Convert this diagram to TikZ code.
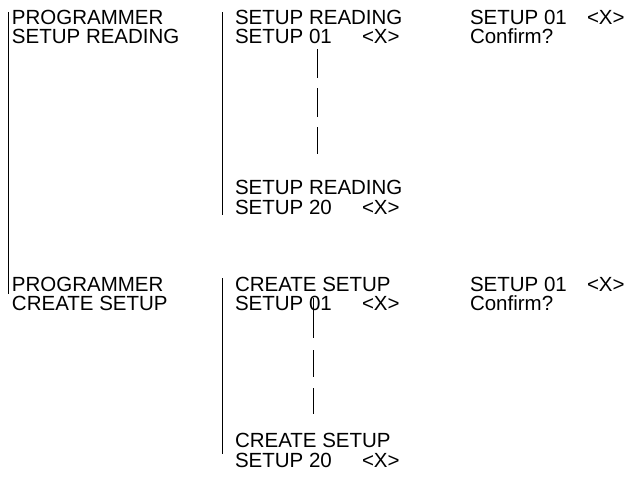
\documentclass[tikz,border=0pt]{standalone}
\usepackage{fontspec}
\setmainfont{Liberation Sans}
\usetikzlibrary{positioning}

\begin{document}
\begin{tikzpicture}
[x=1pt, y=-1pt, font=\fontsize{20.5}{24}\selectfont,
% STYLES
% The menu style is used for every line of display text
menu/.style={anchor=base west, inner sep=0pt, outer sep=0pt},
% The rule style is used for the vertical guide lines
rule/.style={draw=black, line width=0.8pt},
% The scroll style is used for the dashed scroll lines
scroll/.style={draw=black, line width=0.8pt}]

\useasboundingbox (0,0) rectangle (629,477);

% Draw menus
% reading
\node [menu] at (12,24) (prog-read) {PROGRAMMER};
\node [menu] at (12,43) (item-read) {SETUP READING};
\node [menu] at (235,24) (read-head) {SETUP READING};
\node [menu] at (235,43) (read-first) {SETUP 01};
\node [menu] at (362,43) (read-first-x) {<X>};
\node [menu] at (235,194) (read-tail) {SETUP READING};
\node [menu] at (235,214) (read-last) {SETUP 20};
\node [menu] at (362,214) (read-last-x) {<X>};
\node [menu] at (470,24) (read-sel) {SETUP 01};
\node [menu] at (587,24) (read-sel-x) {<X>};
\node [menu] at (470,43) (read-conf) {Confirm?};

% create
\node [menu] at (12,291) (prog-create) {PROGRAMMER};
\node [menu] at (12,310) (item-create) {CREATE SETUP};
\node [menu] at (235,291) (create-head) {CREATE SETUP};
\node [menu] at (235,310) (create-first) {SETUP 01};
\node [menu] at (362,310) (create-first-x) {<X>};
\node [menu] at (235,447) (create-tail) {CREATE SETUP};
\node [menu] at (235,467) (create-last) {SETUP 20};
\node [menu] at (362,467) (create-last-x) {<X>};
\node [menu] at (470,291) (create-sel) {SETUP 01};
\node [menu] at (587,291) (create-sel-x) {<X>};
\node [menu] at (470,310) (create-conf) {Confirm?};

%%%%%%%%%%%%%%%
% Guide lines
\coordinate (main-top) at (8,12);
\coordinate (main-bot) at (8,294);
\coordinate (read-top) at (222,12);
\coordinate (read-bot) at (222,215);
\coordinate (create-top) at (222,278);
\coordinate (create-bot) at (222,454);
\coordinate (read-s1) at (317,49);
\coordinate (read-s2) at (317,154);
\coordinate (create-s1) at (313,298);
\coordinate (create-s2) at (313,414);
%%%%%%%%%%%%%%%%

% Draw the lines
\path[rule]
(main-top) edge (main-bot)
(read-top) edge (read-bot)
(create-top) edge (create-bot);
\draw[scroll, dash pattern=on 29pt off 10pt] (read-s1) -- (read-s2);
\draw[scroll, dash pattern=on 40pt off 12pt on 27pt off 11pt on 27pt] (create-s1) -- (create-s2);

\end{tikzpicture}
\end{document}
